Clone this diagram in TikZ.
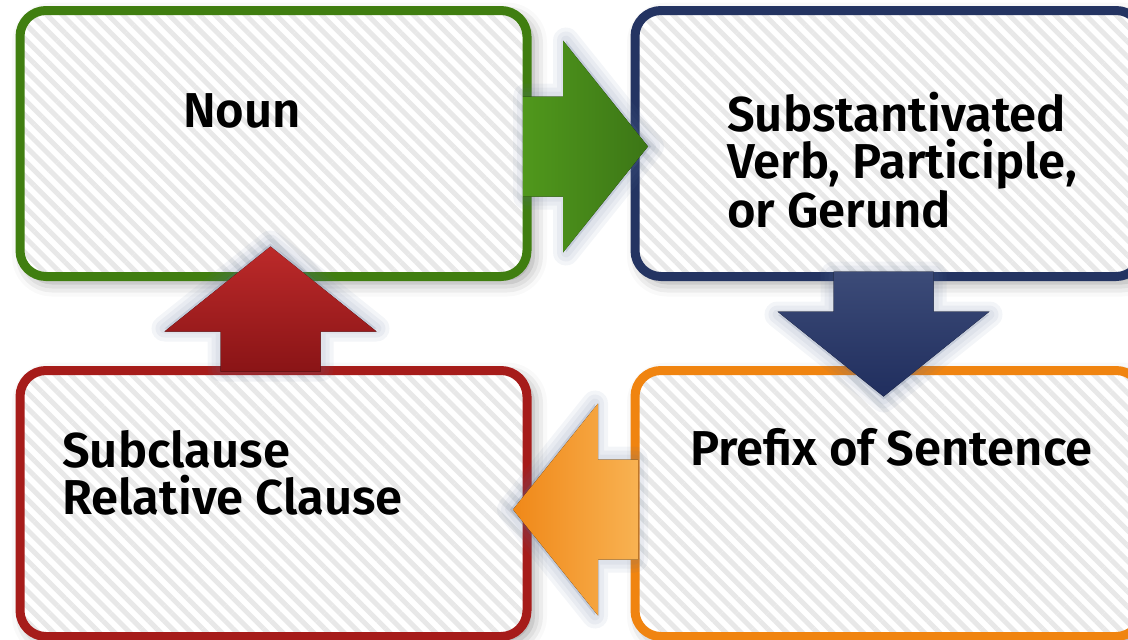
\documentclass[tikz,border=0pt]{standalone}
\usepackage{fontspec}
\setsansfont{Fira Sans}[BoldFont={Fira Sans SemiBold}]
\usetikzlibrary{positioning, calc, patterns.meta, shadows.blur}

\definecolor{nounGreen}{RGB}{64,126,16}
\definecolor{verbNavy}{RGB}{36,52,98}
\definecolor{prefixOrange}{RGB}{240,132,16}
\definecolor{clauseRed}{RGB}{166,28,26}
\definecolor{hatchGrey}{RGB}{232,232,232}
\definecolor{haloBlue}{RGB}{90,110,150}
\definecolor{greenTail}{RGB}{80,152,28}
\definecolor{greenTip}{RGB}{60,118,22}
\definecolor{navyTail}{RGB}{60,75,120}
\definecolor{navyTip}{RGB}{32,46,94}
\definecolor{orangeTail}{RGB}{248,178,82}
\definecolor{orangeTip}{RGB}{240,136,24}
\definecolor{redTail}{RGB}{138,20,22}
\definecolor{redTip}{RGB}{188,42,42}

\tikzset{
  card/.style={draw=#1, line width=9pt, rounded corners=26pt,
    minimum width=507pt, minimum height=266pt, inner sep=0pt, outer sep=0pt,
    blur shadow={shadow xshift=6pt, shadow yshift=-6pt,
      shadow blur radius=14pt, shadow opacity=40},
    preaction={fill=white},
    pattern={Lines[angle=-45, distance=10.8pt, line width=5pt]},
    pattern color=hatchGrey},
  cardtext/.style={font=\sffamily\bfseries\fontsize{49}{47}\selectfont,
    align=left, anchor=base west, inner sep=0pt},
  blockarrow/.pic={
    % soft halo first
    \foreach \w in {26,18,10}
      \filldraw[haloBlue, opacity=0.07, line width=\w pt, line join=round]
        (3,-50) -- (43,-50) -- (43,-106) -- (128,0)
        -- (43,106) -- (43,50) -- (3,50) -- cycle;
    \fill[pic actions] (0,-50) -- (40,-50) -- (40,-106) -- (125,0)
      -- (40,106) -- (40,50) -- (0,50) -- cycle;
  },
}

\begin{document}
\begin{tikzpicture}[x=1pt, y=-1pt]
  \clip (0,0) rectangle (1128,640);

  % cards
  \node[card=nounGreen] (noun) at (273.5,143.5) {};
  \node[card=verbNavy] (verb) [right=108pt of noun] {};
  \node[card=prefixOrange] (prefix) [below=94pt of verb] {};
  \node[card=clauseRed] (clause) [left=108pt of prefix] {};

  % texts (base = last line)
  \node[cardtext] (nountext) at (183,127) {Noun};
  \node[cardtext] (verbtext) at (727,227) {Substantivated\\Verb, Participle,\\or Gerund};
  \node[cardtext] (prefixtext) at (690,465) {Prefix of Sentence};
  \node[cardtext] (clausetext) at (62,514) {Subclause\\Relative Clause};

  % block arrows
  \pic[left color=greenTail, right color=greenTip] (nounarrow)
    at ($(noun.east)+(-4,3)$) {blockarrow};
  \pic[rotate=-90, top color=navyTail, bottom color=navyTip] (verbarrow)
    at ($(verb.south)+(-5,-5)$) {blockarrow};
  \pic[rotate=180, left color=orangeTip, right color=orangeTail] (prefixarrow)
    at ($(prefix.west)+(3,6)$) {blockarrow};
  \pic[rotate=90, top color=redTip, bottom color=redTail] (clausearrow)
    at ($(clause.north)+(-3,1)$) {blockarrow};
\end{tikzpicture}
\end{document}
